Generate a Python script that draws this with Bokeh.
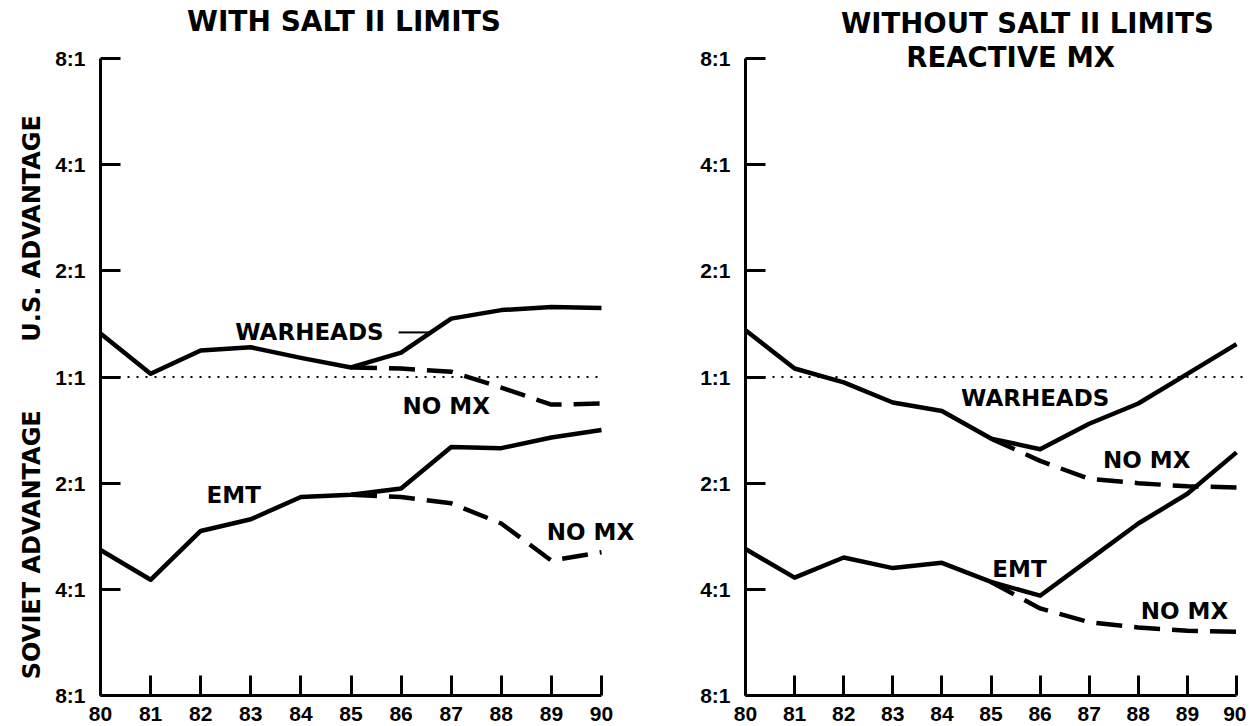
from bokeh.plotting import figure
from bokeh.models import Label, FixedTicker, Range1d
from bokeh.layouts import row
from bokeh.embed import file_html
from bokeh.resources import INLINE

# ---------------- data (values are log2 of the advantage ratio; + = U.S., - = Soviet)
years = [80, 81, 82, 83, 84, 85, 86, 87, 88, 89, 90]
year_labels = ["80", "81", "82", "83", "84", "85", "86", "87", "88", "89", "90"]
nomx_years = [85, 86, 87, 88, 89, 90]
ratio_ticks = [3, 2, 1, 0, -1, -2, -3]
ratio_labels = ["8:1", "4:1", "2:1", "1:1", "2:1", "4:1", "8:1"]
parity = [0, 0]

left_warheads = [0.41, 0.03, 0.25, 0.28, 0.18, 0.09, 0.23, 0.55, 0.63, 0.66, 0.65]
left_warheads_nomx = [0.09, 0.08, 0.05, -0.10, -0.26, -0.25]
left_emt = [-1.63, -1.91, -1.45, -1.34, -1.13, -1.11, -1.05, -0.66, -0.67, -0.57, -0.50]
left_emt_nomx = [-1.11, -1.13, -1.19, -1.38, -1.73, -1.65]

right_warheads = [0.44, 0.08, -0.05, -0.24, -0.32, -0.58, -0.68, -0.44, -0.25, 0.03, 0.31]
right_warheads_nomx = [-0.58, -0.79, -0.96, -1.00, -1.03, -1.04]
right_emt = [-1.62, -1.89, -1.70, -1.80, -1.75, -1.93, -2.06, -1.72, -1.38, -1.10, -0.71]
right_emt_nomx = [-1.93, -2.18, -2.31, -2.36, -2.39, -2.40]

left_titles = ["WITH SALT II LIMITS"]
right_titles = ["WITHOUT SALT II LIMITS", "REACTIVE MX"]
side_labels = ["U.S. ADVANTAGE", "SOVIET ADVANTAGE"]

left_series_labels = ["WARHEADS", "NO MX", "EMT", "NO MX"]
left_label_x = [84.17, 86.9, 82.66, 89.78]
left_label_y = [0.42, -0.27, -1.11, -1.46]
right_series_labels = ["WARHEADS", "NO MX", "EMT", "NO MX"]
right_label_x = [85.9, 88.17, 85.58, 88.94]
right_label_y = [-0.20, -0.78, -1.81, -2.20]

LABEL_FONT = "DejaVu Sans"
TICK_FONT = "Liberation Sans"
H = 724
Y_TOP_PX, Y_BOT_PX = 58, 695          # pixel rows of 8:1 (top) and 8:1 (bottom)


def make_panel(width, px80, px90, parity_end):
    ppy = (px90 - px80) / 10.0
    x0 = 80 - px80 / ppy
    x1 = 80 + (width - px80) / ppy
    ppu = (Y_BOT_PX - Y_TOP_PX) / 6.0
    y1 = 3 + Y_TOP_PX / ppu
    y0 = -3 - (H - Y_BOT_PX) / ppu
    p = figure(width=width, height=H, x_range=Range1d(x0, x1), y_range=Range1d(y0, y1),
               output_backend="svg", toolbar_location=None, min_border=0)
    p.grid.visible = False
    p.outline_line_color = None
    p.background_fill_color = "white"
    p.border_fill_color = "white"
    p.xaxis.ticker = FixedTicker(ticks=years)
    p.xaxis.major_label_overrides = {y: l for y, l in zip(years, year_labels)}
    p.yaxis.ticker = FixedTicker(ticks=ratio_ticks)
    p.yaxis.major_label_overrides = {t: l for t, l in zip(ratio_ticks, ratio_labels)}
    p.xaxis.fixed_location = -3
    p.yaxis.fixed_location = 80
    p.xaxis.bounds = (80, 90)
    p.yaxis.bounds = (-3, 3)
    for ax in (p.xaxis[0], p.yaxis[0]):
        ax.major_tick_in = 20
        ax.major_tick_out = 0
        ax.minor_tick_line_color = None
        ax.axis_line_width = 3
        ax.axis_line_color = "black"
        ax.major_tick_line_width = 3
        ax.major_tick_line_color = "black"
        ax.major_label_text_font = TICK_FONT
        ax.major_label_text_font_style = "bold"
        ax.major_label_text_color = "black"
    p.xaxis.major_label_text_font_size = "21px"
    p.xaxis.major_label_standoff = 11
    p.yaxis.major_label_text_font_size = "21px"
    p.yaxis.major_label_standoff = 15
    p.line([80, parity_end], parity, line_color="black", line_width=2, line_dash="2 7")
    return p


def add_series(p, wh, wh_nomx, emt, emt_nomx):
    for vals in (wh, emt):
        p.line(years, vals, line_color="black", line_width=4.5, line_join="round")
    for vals in (wh_nomx, emt_nomx):
        p.line(nomx_years, vals, line_color="black", line_width=4.5, line_dash="26 12")


def add_text(p, x, y, t, size, angle=0.0):
    p.add_layout(Label(x=x, y=y, text=t, text_align="center", text_baseline="middle",
                       text_font=LABEL_FONT, text_font_style="bold",
                       text_font_size=size, text_color="black", angle=angle))


p1 = make_panel(640, 100, 601, 90)
add_series(p1, left_warheads, left_warheads_nomx, left_emt, left_emt_nomx)
for t, x, y in zip(left_series_labels, left_label_x, left_label_y):
    add_text(p1, x, y, t, "23px")
p1.line([85.95, 86.55], [0.42, 0.42], line_color="black", line_width=2)
add_text(p1, 84.86, 3.35, left_titles[0], "28px")
add_text(p1, 78.64, 1.40, side_labels[0], "24px", angle=1.5708)
add_text(p1, 78.64, -1.58, side_labels[1], "24px", angle=1.5708)

p2 = make_panel(606, 105, 596, 90.3)
add_series(p2, right_warheads, right_warheads_nomx, right_emt, right_emt_nomx)
for t, x, y in zip(right_series_labels, right_label_x, right_label_y):
    add_text(p2, x, y, t, "23px")
add_text(p2, 85.74, 3.33, right_titles[0], "27.5px")
add_text(p2, 85.40, 3.01, right_titles[1], "27.5px")

layout = row(p1, p2, spacing=0)
open("out.html", "w").write(file_html(layout, INLINE))
